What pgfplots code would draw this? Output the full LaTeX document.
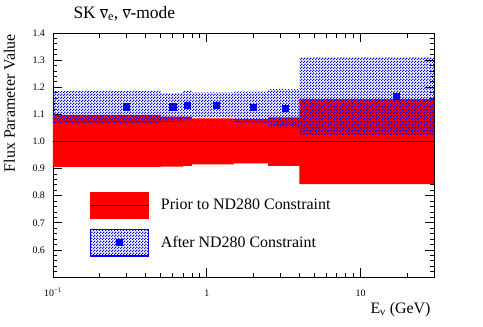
\documentclass[border=0pt]{standalone}
\usepackage{fontspec}
\setmainfont{Liberation Serif}
\usepackage{pgfplots}
\pgfplotsset{compat=1.18}
\usetikzlibrary{patterns}

% ROOT-like fine checkerboard hatch
\pgfdeclarepatternformonly{rootchecker}{\pgfpointorigin}{\pgfpoint{3bp}{3bp}}{\pgfpoint{3bp}{3bp}}{%
  \pgfpathrectangle{\pgfpointorigin}{\pgfpoint{1.5bp}{1.5bp}}%
  \pgfpathrectangle{\pgfpoint{1.5bp}{1.5bp}}{\pgfpoint{1.5bp}{1.5bp}}%
  \pgfusepath{fill}}

\newcommand{\nubar}{$\overline{\hbox{ν}}$}
\newcommand{\bigtxt}{\fontsize{16}{19}\selectfont}

\begin{document}
\begin{tikzpicture}
\path (-53bp,-50bp) rectangle (430bp,277bp);
\begin{axis}[
    at={(0,0)}, anchor=south west,
    scale only axis, width=381bp, height=244bp,
    clip=false,
    xmode=log, xmin=0.1, xmax=30, ymin=0.5, ymax=1.4,
    xtick={0.1,1,10}, xticklabels={10\textsuperscript{−1},1,10},
    minor xtick={0.2,0.3,0.4,0.5,0.6,0.7,0.8,0.9,2,3,4,5,6,7,8,9,20},
    ytick={0.5,0.6,0.7,0.8,0.9,1.0,1.1,1.2,1.3,1.4},
    yticklabels={,0.6,0.7,0.8,0.9,1.0,1.1,1.2,1.3,1.4},
    minor y tick num=4,
    tick align=inside, tick pos=both,
    major tick length=9bp, minor tick length=4.5bp,
    axis line style={line width=0.9bp},
    every tick/.style={black, line width=0.7bp},
    tick label style={font=\fontsize{10}{12}\selectfont},
    xticklabel style={text height=7bp, text depth=0pt, yshift=-8.5bp},
    yticklabel style={xshift=-4.5bp},
    xlabel={E\textsubscript{ν} (GeV)},
    xlabel style={at={(axis description cs:1,-0.148)}, anchor=base east, font=\bigtxt},
    ylabel={Flux Parameter Value},
    ylabel style={at={(axis description cs:-0.1,1.01)}, anchor=base east, font=\bigtxt},
    legend style={at={(axis description cs:0.0971,0.3496)}, anchor=north west,
      draw=none, fill=none, inner sep=0pt, row sep=10bp,
      font=\bigtxt, nodes={inner sep=0pt},
      /tikz/every odd column/.append style={column sep=12bp}},
    legend cell align=left,
]
% prior (red) band: upper edge left to right, lower edge back
\addplot[fill=red, draw=none, forget plot] coordinates {
  (0.1,1.098) (0.5,1.098) (0.5,1.092) (0.7,1.092) (0.8,1.092)
  (0.8,1.085) (1.5,1.085) (1.5,1.082) (2.5,1.082) (2.5,1.089)
  (4,1.089) (4,1.156) (30,1.156)
  (30,0.843) (4,0.843) (4,0.910) (2.5,0.910) (2.5,0.919)
  (1.5,0.919) (1.5,0.915) (0.8,0.915) (0.8,0.910) (0.7,0.910)
  (0.7,0.907) (0.5,0.907) (0.5,0.906) (0.1,0.906)} -- cycle;
% after ND280 (blue hatched) band
\addplot[pattern=rootchecker, pattern color=blue, draw=none, forget plot] coordinates {
  (0.1,1.186) (0.5,1.186) (0.5,1.178) (0.7,1.178) (0.7,1.187)
  (0.8,1.187) (0.8,1.181) (1.5,1.181) (1.5,1.184) (2.5,1.184)
  (2.5,1.193) (4,1.193) (4,1.311) (30,1.311)
  (30,1.024) (4,1.024) (4,1.052) (2.5,1.052) (2.5,1.069)
  (1.5,1.069) (1.5,1.088) (0.8,1.088) (0.8,1.082) (0.7,1.082)
  (0.7,1.073) (0.5,1.073) (0.5,1.067) (0.1,1.067)} -- cycle;
% nominal
\addplot[black, line width=0.8bp, forget plot] coordinates {(0.1,1) (30,1)};
% post-fit central values
\addplot[only marks, mark=square*, mark size=3.1bp, blue, forget plot] coordinates {
  (0.3,1.128) (0.6,1.128) (0.75,1.135) (1.15,1.135) (2.0,1.126) (3.25,1.122) (17,1.168)};

\addlegendimage{legend image code/.code={
  \fill[red] (0bp,-13.3bp) rectangle (58bp,13.3bp);
  \draw[black, line width=0.8bp] (0bp,0bp) -- (58bp,0bp);}}
\addlegendentry{Prior to ND280 Constraint}
\addlegendimage{blue, legend image code/.code={
  \path[pattern=rootchecker, pattern color=blue] (0bp,-13.3bp) rectangle (58bp,13.3bp);
  \path[draw=blue, line width=0.8bp] (0bp,-13.3bp) rectangle (58bp,13.3bp);
  \path[fill=blue] (26bp,-3bp) rectangle (32bp,3bp);}}
\addlegendentry{After ND280 Constraint}

\node[anchor=base west, font=\fontsize{17.5}{21}\selectfont] at (axis description cs:0.0446,1.060)
  {SK \nubar\textsubscript{e}, \nubar-mode};
\end{axis}
\end{tikzpicture}
\end{document}
